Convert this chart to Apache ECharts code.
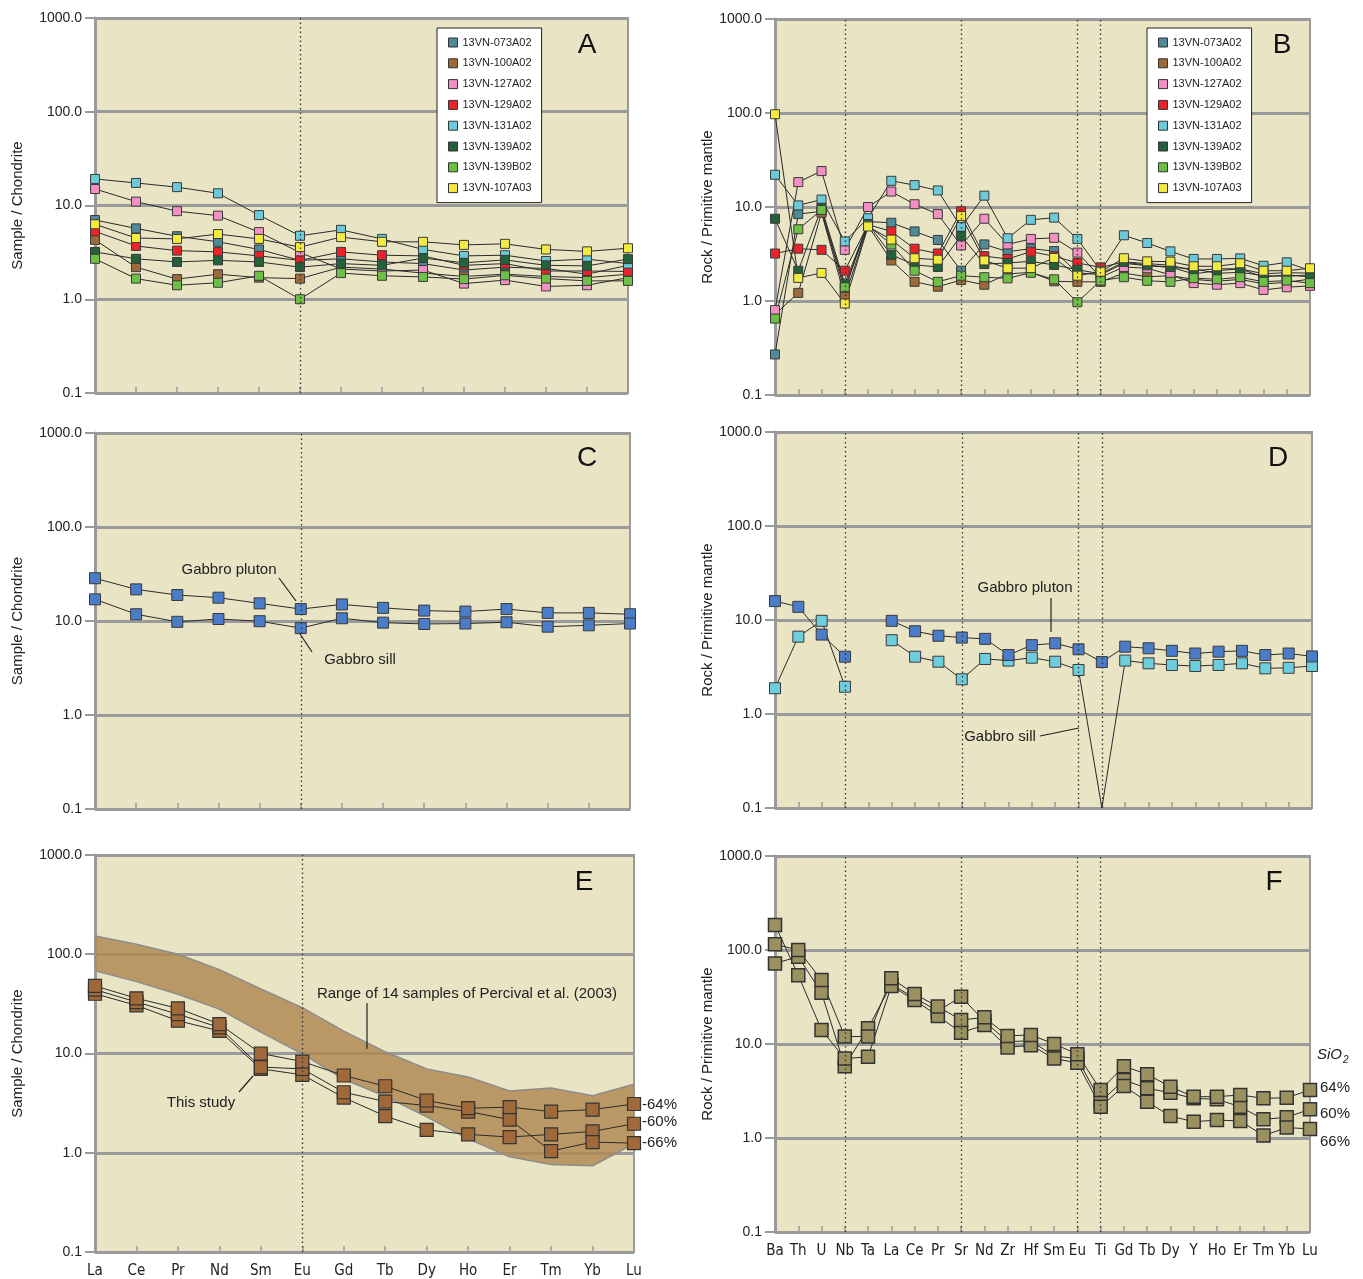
<!DOCTYPE html>
<html><head><meta charset="utf-8">
<script src="https://cdn.jsdelivr.net/npm/echarts@6/dist/echarts.min.js"></script>
<style>html,body{margin:0;padding:0;background:#fff}#c{width:1363px;height:1279px}</style>
</head><body><div id="c"></div>
<script>
// ---------- categories ----------
const REE = ['La','Ce','Pr','Nd','Sm','Eu','Gd','Tb','Dy','Ho','Er','Tm','Yb','Lu'];
const SPIDER = ['Ba','Th','U','Nb','Ta','La','Ce','Pr','Sr','Nd','Zr','Hf','Sm','Eu','Ti','Gd','Tb','Dy','Y','Ho','Er','Tm','Yb','Lu'];
const Y_TICK_LABELS = {'0.1':'0.1','1':'1.0','10':'10.0','100':'100.0','1000':'1000.0'};
const SAMPLE_NAMES = ['13VN-073A02','13VN-100A02','13VN-127A02','13VN-129A02','13VN-131A02','13VN-139A02','13VN-139B02','13VN-107A03'];
const SAMPLE_COLORS = ['#4f8a97','#9e6a3a','#f290c4','#e8242a','#6ccad8','#24613a','#6dbf45','#f2ea3e'];

// ---------- Panel A (REE / chondrite, individual samples) ----------
const A_073A02 = [7.0,5.7,4.7,4.1,3.4,2.6,2.7,2.5,2.4,2.05,2.2,2.13,1.85,2.3];
const A_100A02 = [4.3,2.2,1.64,1.85,1.7,1.66,2.2,2.1,1.9,1.75,1.85,1.75,1.7,1.85];
const A_127A02 = [15,11,8.7,7.8,5.2,3.15,2.1,2.0,2.05,1.47,1.6,1.37,1.41,1.7];
const A_129A02 = [5.3,3.7,3.3,3.2,2.9,2.6,3.2,2.95,2.9,2.3,2.4,2.0,2.0,1.98];
const A_131A02 = [19.2,17.4,15.7,13.5,7.9,4.75,5.5,4.4,3.4,2.9,2.95,2.56,2.68,2.4];
const A_139A02 = [3.2,2.7,2.5,2.6,2.5,2.2,2.4,2.3,2.75,2.45,2.63,2.3,2.27,2.68];
const A_139B02 = [2.7,1.66,1.41,1.5,1.78,1.0,1.9,1.78,1.73,1.64,1.8,1.66,1.57,1.57];
const A_107A03 = [6.3,4.5,4.4,4.96,4.4,3.6,4.6,4.1,4.1,3.8,3.9,3.4,3.24,3.5];

// ---------- Panel B (spider / primitive mantle, individual samples) ----------
const B_073A02 = [0.27,8.4,9.0,1.29,7.0,6.8,5.5,4.46,2.1,4.0,3.35,3.6,3.4,2.0,1.9,2.52,2.37,2.28,2.2,1.97,2.02,1.86,1.83,1.9];
const B_100A02 = [0.72,1.22,8.7,1.11,6.3,2.7,1.6,1.42,1.67,1.49,1.94,2.02,1.62,1.6,1.6,1.98,1.81,1.86,1.7,1.62,1.7,1.52,1.58,1.71];
const B_127A02 = [0.8,18.4,24.1,3.5,10,14.6,10.7,8.4,3.9,7.5,4.0,4.57,4.7,3.27,1.79,2.3,2.23,1.9,1.55,1.49,1.55,1.31,1.4,1.45];
const B_129A02 = [3.2,3.6,3.5,2.1,6.5,5.5,3.6,3.2,9.0,3.0,2.8,3.35,3.0,2.54,2.28,2.6,2.5,2.4,2.1,2.2,2.2,1.95,2.0,1.98];
const B_131A02 = [22,10.4,12,4.3,7.6,19,17.1,15,6.1,13.2,4.65,7.3,7.7,4.57,2.1,5.0,4.14,3.37,2.8,2.8,2.84,2.37,2.58,2.1];
const B_139A02 = [7.5,2.1,9.8,1.53,6.6,3.1,2.43,2.3,4.95,2.47,2.54,2.64,2.42,2.15,1.95,2.6,2.4,2.3,1.94,2.1,2.2,1.8,1.9,1.8];
const B_139B02 = [0.65,5.8,9.3,1.4,6.4,4.0,2.1,1.6,1.86,1.79,1.74,2.0,1.7,0.97,1.65,1.79,1.64,1.6,1.75,1.7,1.79,1.6,1.65,1.55];
const B_107A03 = [97,1.76,1.99,0.94,6.2,4.5,2.85,2.75,8.0,2.7,2.23,2.24,2.87,1.86,2.05,2.85,2.64,2.62,2.34,2.34,2.52,2.1,2.1,2.23];

// ---------- Panel C (REE, gabbros) ----------
const C_PLUTON = [28.5,21.7,18.9,17.7,15.4,13.4,15.0,13.8,12.9,12.6,13.4,12.2,12.2,11.8];
const C_SILL   = [17,11.8,9.8,10.5,9.95,8.4,10.7,9.6,9.3,9.4,9.7,8.7,9.0,9.4];

// ---------- Panel D (spider, gabbros) ----------
const D_PLUTON = [15.9,13.8,7.0,4.07,null,9.8,7.6,6.8,6.5,6.3,4.24,5.4,5.65,4.88,3.57,5.2,5.0,4.7,4.4,4.6,4.7,4.24,4.4,4.1];
const D_SILL   = [1.88,6.65,9.8,1.95,null,6.1,4.07,3.6,2.34,3.85,3.7,3.97,3.6,2.94,0.1,3.7,3.46,3.32,3.24,3.32,3.46,3.06,3.1,3.24];

// ---------- Panel E (REE, this study vs Percival range) ----------
const E_BAND_LOW  = [68,53,39.5,28,16.4,9.9,5.5,3.7,2.3,1.38,0.91,0.76,0.74,1.23];
const E_BAND_HIGH = [153,126,100,70,44.6,29,16.8,10.4,7.0,5.8,4.2,4.5,3.75,4.9];
const E_SIO2_64 = [48,36,28.5,19.8,10.0,8.3,6.0,4.68,3.36,2.81,2.88,2.6,2.72,3.1];
const E_SIO2_60 = [40,30.5,21.4,16.9,7.0,6.1,3.6,2.34,1.7,1.53,1.44,1.53,1.64,1.96];
const E_SIO2_66 = [44,33,24.9,18.3,7.3,7.0,4.07,3.28,2.99,2.6,2.16,1.04,1.28,1.25];

// ---------- Panel F (spider, this study) ----------
const F_SIO2_64 = [115,100,48,12,12,50,34,25,18,19.2,12.2,12.5,10,7.8,3.24,5.8,4.76,3.5,2.75,2.75,2.87,2.64,2.68,3.24];
const F_SIO2_60 = [72,85,35,5.8,14.7,43,31,22.4,31.8,17.5,10.6,10.8,7.45,7.0,2.43,4.14,3.38,3.03,2.64,2.58,2.15,1.58,1.66,2.02];
const F_SIO2_66 = [185,54,14.1,7.0,7.3,41.4,29.4,19.9,13.2,15.9,9.2,9.7,7.0,6.3,2.15,3.57,2.43,1.71,1.49,1.55,1.52,1.06,1.29,1.25];

// ---------- option building ----------
const FONT = "'Liberation Sans', Arial, Helvetica, sans-serif";
const NARROW = "'Liberation Sans Narrow','DejaVu Sans Condensed','Liberation Sans',sans-serif";
const BG = '#e8e4c4';
const GRIDS = [
  {left:95, top:18, width:533, height:375},
  {left:775, top:19, width:535, height:376},
  {left:95, top:433, width:535, height:376},
  {left:775, top:432, width:537, height:376},
  {left:95, top:855, width:539, height:398},
  {left:775, top:856, width:535, height:376}
];
const Y_NAMES = ['Sample / Chondrite','Rock / Primitive mantle','Sample / Chondrite','Rock / Primitive mantle','Sample / Chondrite','Rock / Primitive mantle'];
const CATS = [REE, SPIDER, REE, SPIDER, REE, SPIDER];
const SHOW_XLABELS = [false,false,false,false,true,true];

const grid = GRIDS.map(g => Object.assign({show:true, backgroundColor:BG, borderColor:'#9a9a9a', borderWidth:2, containLabel:false}, g));
const xAxis = CATS.map((c,i) => ({
  type:'category', gridIndex:i, data:c, boundaryGap:false,
  axisLine:{lineStyle:{color:'#9a9a9a', width:2}},
  axisTick:{show:true, inside:true, length:6, lineStyle:{color:'#9a9a9a', width:1.5}},
  axisLabel:{show:SHOW_XLABELS[i], color:'#222', fontSize:15, fontFamily:NARROW, margin:12, interval:0},
  splitLine:{show:false}
}));
const yAxis = Y_NAMES.map((n,i) => ({
  type:'log', logBase:10, gridIndex:i, min:0.1, max:1000,
  name:n, nameLocation:'middle', nameGap:(i%2===0?70:59),
  nameTextStyle:{fontSize:15, color:'#222', fontFamily:FONT},
  axisLine:{show:true, lineStyle:{color:'#9a9a9a', width:3}},
  axisTick:{show:true, length:10, lineStyle:{color:'#9a9a9a', width:2}},
  axisLabel:{color:'#222', fontSize:14, fontFamily:FONT, margin:13,
    formatter:v => Y_TICK_LABELS[String(+v.toPrecision(3))] || String(v)},
  splitLine:{show:true, lineStyle:{color:'#9a9a9a', width:3}},
  minorTick:{show:false}
}));

function mk(name, data, idx, color, size, extra){
  return Object.assign({
    name, type:'line', xAxisIndex:idx, yAxisIndex:idx, data,
    symbol:'rect', symbolSize:size, showSymbol:true, connectNulls:false,
    itemStyle:{color, borderColor:'#3a3a3a', borderWidth:1},
    lineStyle:{color:'#2a2a2a', width:1},
    emphasis:{disabled:true}, animation:false, z:3
  }, extra||{});
}
function dotted(names){
  return {silent:true, symbol:'none', label:{show:false}, animation:false,
    lineStyle:{type:[1.5,3], color:'#333', width:1.3}, data:names.map(n => ({xAxis:n}))};
}
const SPIDER_DOTS = ['Nb','Sr','Eu','Ti'];
const series = [];

const A_DATA = [A_073A02,A_100A02,A_127A02,A_129A02,A_131A02,A_139A02,A_139B02,A_107A03];
const B_DATA = [B_073A02,B_100A02,B_127A02,B_129A02,B_131A02,B_139A02,B_139B02,B_107A03];
A_DATA.forEach((d,k) => series.push(mk(SAMPLE_NAMES[k], d, 0, SAMPLE_COLORS[k], 9, k===0?{markLine:dotted(['Eu'])}:{})));
B_DATA.forEach((d,k) => series.push(mk(SAMPLE_NAMES[k], d, 1, SAMPLE_COLORS[k], 9, k===0?{markLine:dotted(SPIDER_DOTS)}:{})));

series.push(mk('C pluton', C_PLUTON, 2, '#4a7cc8', 11, {markLine:dotted(['Eu'])}));
series.push(mk('C sill', C_SILL, 2, '#4a7cc8', 11));

// the sill's Ti value sits on the axis floor: drawn by the line only, without a marker
series.push(mk('D sill', D_SILL.map(v => v === 0.1 ? {value:v, symbolSize:0} : v), 3, '#6ecddc', 11, {markLine:dotted(SPIDER_DOTS)}));
series.push(mk('D pluton', D_PLUTON, 3, '#4a7cc8', 11));

// Percival range band (stacked area between low and high)
series.push({name:'band low', type:'line', xAxisIndex:4, yAxisIndex:4, data:E_BAND_LOW, stack:'band',
  symbol:'none', lineStyle:{color:'#8c8c8c', width:1.5}, emphasis:{disabled:true}, animation:false, z:1,
  markLine:dotted(['Eu'])});
series.push({name:'band high', type:'line', xAxisIndex:4, yAxisIndex:4,
  data:E_BAND_HIGH.map((h,i) => h - E_BAND_LOW[i]), stack:'band',
  symbol:'none', lineStyle:{color:'#8c8c8c', width:1.5}, areaStyle:{color:'#b08850', opacity:0.82},
  emphasis:{disabled:true}, animation:false, z:1});
const E_STYLE = {itemStyle:{color:'#a0693a', borderColor:'#333', borderWidth:1.2}};
series.push(mk('E 60', E_SIO2_60, 4, '#a0693a', 13, E_STYLE));
series.push(mk('E 66', E_SIO2_66, 4, '#a0693a', 13, E_STYLE));
series.push(mk('E 64', E_SIO2_64, 4, '#a0693a', 13, E_STYLE));

const F_STYLE = {itemStyle:{color:'#9b9160', borderColor:'#333', borderWidth:1.5}};
series.push(mk('F 60', F_SIO2_60, 5, '#9b9160', 13, Object.assign({markLine:dotted(SPIDER_DOTS)}, F_STYLE)));
series.push(mk('F 66', F_SIO2_66, 5, '#9b9160', 13, F_STYLE));
series.push(mk('F 64', F_SIO2_64, 5, '#9b9160', 13, F_STYLE));

function legendAt(left){
  return {left, top:28, orient:'vertical', data:SAMPLE_NAMES, selectedMode:false,
    backgroundColor:'#fff', borderColor:'#222', borderWidth:1, padding:[9,10,9,11],
    icon:'rect', itemWidth:9, itemHeight:9, itemGap:9.8,
    itemStyle:{borderColor:'#333', borderWidth:1},
    textStyle:{fontSize:11, color:'#222', fontFamily:FONT}};
}

function txt(x, y, text, opt){
  return {type:'text', x, y, silent:true, z:100, style:Object.assign({text, fill:'#222',
    font:'15px ' + FONT, textAlign:'center', textVerticalAlign:'middle'}, opt||{})};
}
function seg(x1,y1,x2,y2){
  return {type:'line', silent:true, z:100, shape:{x1,y1,x2,y2}, style:{stroke:'#222', lineWidth:1.2}};
}
const BIG = '28px ' + FONT;
const graphic = [
  txt(587,45,'A',{font:BIG, fill:'#111'}), txt(1282,45,'B',{font:BIG, fill:'#111'}),
  txt(587,458,'C',{font:BIG, fill:'#111'}), txt(1278,458,'D',{font:BIG, fill:'#111'}),
  txt(584,882,'E',{font:BIG, fill:'#111'}), txt(1274,882,'F',{font:BIG, fill:'#111'}),
  txt(229,570,'Gabbro pluton'), seg(279,578,296,601),
  txt(360,660,'Gabbro sill'), seg(300,634,312,652),
  txt(1025,588,'Gabbro pluton'), seg(1051,598,1051,632),
  txt(1000,737,'Gabbro sill'), seg(1040,736,1079,728),
  txt(467,994,'Range of 14 samples of Percival et al. (2003)'), seg(367,1003,367,1049),
  txt(201,1103,'This study'), seg(239,1092,253,1076),
  txt(642,1105,'-64%',{textAlign:'left'}), txt(642,1122,'-60%',{textAlign:'left'}), txt(642,1143,'-66%',{textAlign:'left'}),
  txt(1317,1055,'SiO',{textAlign:'left', font:'italic 15px ' + FONT}),
  txt(1343,1060,'2',{textAlign:'left', font:'italic 10px ' + FONT}),
  txt(1320,1088,'64%',{textAlign:'left'}), txt(1320,1114,'60%',{textAlign:'left'}), txt(1320,1142,'66%',{textAlign:'left'})
];

const chart = echarts.init(document.getElementById('c'), null, {renderer:'canvas'});
chart.setOption({
  animation:false, backgroundColor:'#fff',
  textStyle:{fontFamily:FONT},
  grid, xAxis, yAxis, series,
  legend:[legendAt(437), legendAt(1147)],
  graphic
});
</script></body></html>
